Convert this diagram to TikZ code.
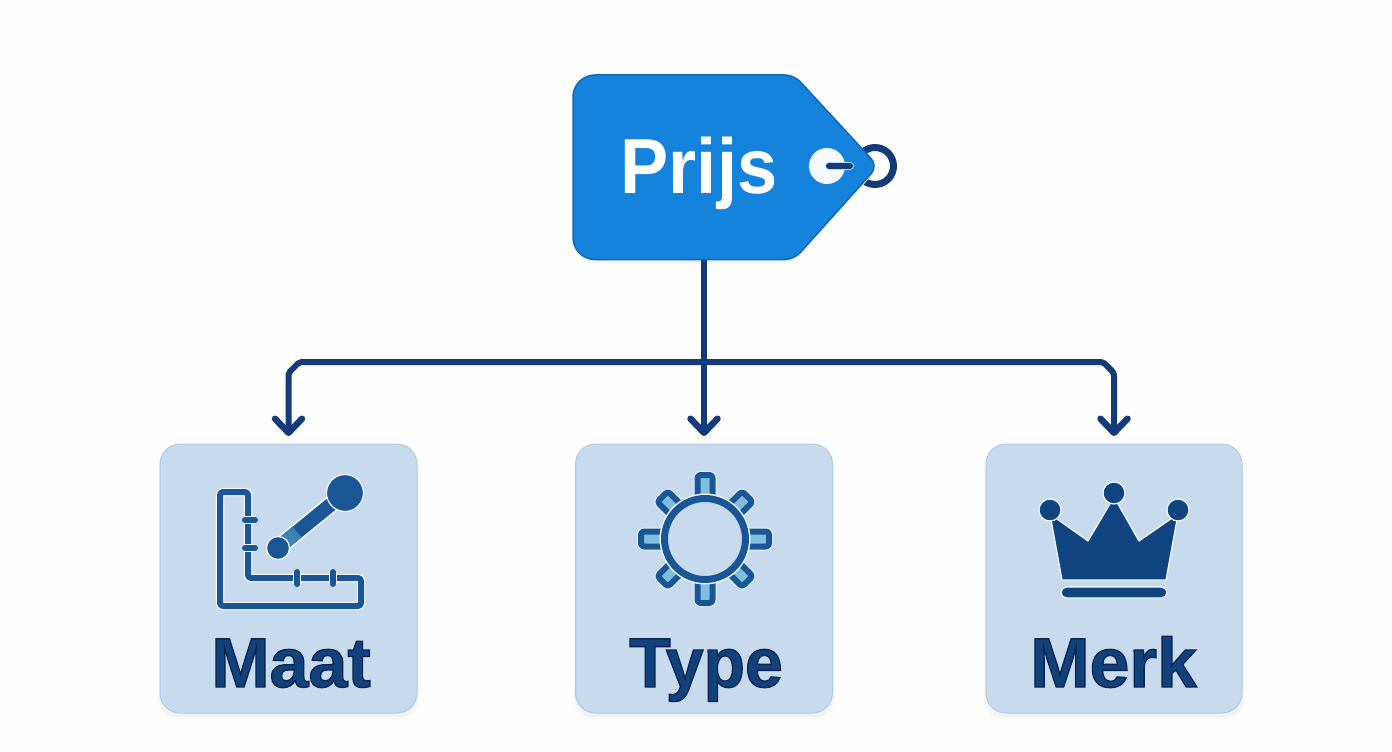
\documentclass[tikz,border=0pt]{standalone}
\usepackage{fontspec}
\setmainfont{Liberation Sans}[BoldFont={Liberation Sans Bold}]
\usetikzlibrary{arrows.meta,calc}
\definecolor{navy}{HTML}{133B78}
\definecolor{tagblue}{HTML}{1583DC}
\definecolor{tagedge}{HTML}{1267B5}
\definecolor{boxfill}{HTML}{C7DAEE}
\definecolor{boxedge}{HTML}{AACDE6}
\definecolor{icon}{HTML}{1A5596}
\definecolor{icondark}{HTML}{0F4480}
\definecolor{iconlight}{HTML}{7FBEDD}
\definecolor{iconmid}{HTML}{3E82B4}
\definecolor{labelfill}{HTML}{12427C}
\newcommand{\outlined}[1]{\special{pdf:code q 0.04 0.14 0.31 RG 1.3 w 2 Tr}#1\special{pdf:code 0 Tr Q}}
\tikzset{
  conn/.style={draw=navy,line width=6pt,line join=round},
  arrowed/.style={conn,-{Straight Barb[length=14pt,width=27pt,line width=6.5pt,round]},shorten >=8pt},
  card/.style={draw=boxedge,line width=1pt,fill=boxfill,rounded corners=20pt,
    minimum width=257pt,minimum height=269pt,inner sep=0pt,outer sep=0pt},
  cardname/.style={anchor=base,text=labelfill,font=\bfseries\fontsize{70}{72}\selectfont,inner sep=0pt},
  iconline/.style={draw=icon,line width=6pt,line join=round,line cap=round,
    preaction={draw=white!85!boxfill,line width=8.5pt}},
  ray/.style={draw=icon,fill=iconlight,line width=6pt,line join=round,
    preaction={draw=white!70!boxfill,line width=8pt}},
}
\begin{document}
\begin{tikzpicture}[x=1pt,y=-1pt]
\useasboundingbox (0,0) rectangle (1392,752);
\fill[white!99.5!black] (0,0) rectangle (1392,752);

% card shadows
\foreach \cx in {288.5,704,1114} {
  \fill[black!3,rounded corners=20pt] (\cx-130,450) rectangle (\cx+130,719);
  \fill[black!5,rounded corners=20pt] (\cx-129,450) rectangle (\cx+129,717);
}

% cards
\node[card] (maat) at (288.5,578.5) {};
\node[card] (type) at (704,578.5) {};
\node[card,minimum width=256pt] (merk) at (1114,578.5) {};

% tag ring and tag
\draw[navy,line width=7pt] (875,166) circle (18.5pt);
\fill[black!4,rounded corners=22pt] (700,78) -- (574,78) -- (574,263) -- (700,263) [rounded corners=6pt] -- (794,263) -- (872,175) -- (794,78) -- cycle;
\draw[fill=tagblue,draw=tagedge,line width=1.5pt,rounded corners=22pt]
  (700,75) -- (573,75) -- (573,259.5) -- (700,259.5)
  [rounded corners=9pt] -- (794,259.5)
  [rounded corners=10pt] -- (878,166)
  [rounded corners=9pt] -- (794,75) -- cycle;
\node[anchor=base,text=white,font=\bfseries\fontsize{78}{80}\selectfont,inner sep=0pt,xscale=0.925] (prijs) at (699,193) {Prijs};
\fill[white!96!tagblue] (827,166) circle (18pt);
\draw[navy,line width=6pt,line cap=round,preaction={draw=white!70!tagblue,line width=8pt,line cap=round}] (829,166) -- (850,166);

% connectors
\coordinate (tagfoot) at (704,260);
\coordinate (junction) at (704,362);
\draw[arrowed] (tagfoot) -- (type.north);
\draw[arrowed,rounded corners=2pt] (junction) -- ($(maat.north|-junction)+(11,0)$) -- ($(maat.north|-junction)+(0,11)$) -- (maat.north);
\draw[arrowed,rounded corners=2pt] (junction) -- ($(merk.north|-junction)+(-11,0)$) -- ($(merk.north|-junction)+(0,11)$) -- (merk.north);

% Maat icon
\draw[iconline,rounded corners=3pt] (220,492) -- (248,492) -- (248,578) -- (361,578) -- (361,606) -- (220,606) -- cycle;
\foreach \y in {520,548} \draw[iconline] (245,\y) -- (255,\y);
\foreach \x in {297,333} \draw[iconline] (\x,572) -- (\x,584);
\draw[draw=white!85!boxfill,line width=17pt] (280,546) -- (345,493);
\draw[draw=icon,line width=14pt] (280,546) -- (345,493);
\draw[draw=iconmid,line width=14pt] (285,542) -- (297,532);
\fill[icon,draw=white!85!boxfill,line width=1.2pt] (345,493) circle (18.5pt);
\fill[icon,draw=white!85!boxfill,line width=1.2pt] (278,548) circle (11.5pt);

% Type icon
\foreach \a/\r in {0/64,45/60,90/64,135/60,180/64,225/60,270/64,315/60}
  \draw[ray,rotate around={\a:(705,539)},rounded corners=3pt]
    (705-7.5,539-44) -- (705-7.5,539-\r) -- (705+7.5,539-\r) -- (705+7.5,539-44);
\draw[icon,line width=7pt,preaction={draw=white!75!boxfill,line width=10pt},fill=boxfill] (705,539) circle (40.5pt);

% Merk icon
\fill[icondark,draw=white!85!boxfill,line width=1.2pt,line join=round]
  (1050,514) -- (1088,541) -- (1114,497) -- (1139,541) -- (1178,514) -- (1166,580) -- (1062,580) -- cycle;
\foreach \x/\y in {1050/510,1114/493,1178/510}
  \fill[icondark,draw=white!85!boxfill,line width=1.2pt] (\x,\y) circle (11pt);
\fill[icondark,draw=white!85!boxfill,line width=1.2pt,rounded corners=5.5pt] (1061,587) rectangle (1167,598);

% card names
\node[cardname] (maatname) at (291,687) {\outlined{Maat}};
\node[cardname,xscale=0.97] (typename) at (706,687) {\outlined{Type}};
\node[cardname,xscale=1.02] (merkname) at (1113.5,687) {\outlined{Merk}};
\end{tikzpicture}
\end{document}
